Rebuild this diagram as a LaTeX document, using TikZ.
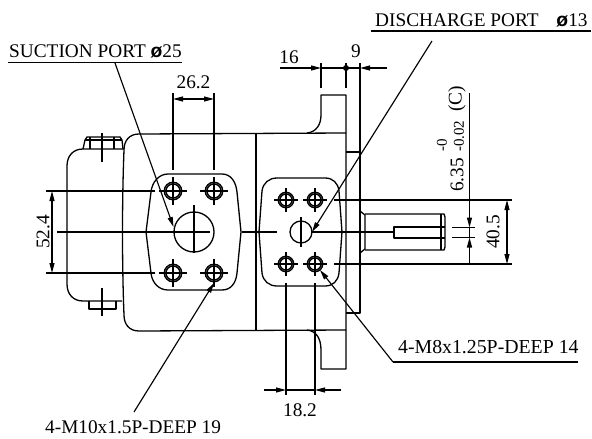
\documentclass[tikz,border=0pt]{standalone}
\usepackage{fontspec}
\setmainfont{Liberation Serif}
\newfontfamily\symfont{Liberation Sans}
\usetikzlibrary{arrows.meta}
\tikzset{
  part/.style={line width=1.3pt,line join=round},
  thin part/.style={line width=1.1pt},
  ext/.style={line width=1.15pt},
  dimtip/.style={-{Triangle[length=10pt,width=5pt]},line width=1.15pt},
  dimboth/.style={{Triangle[length=10pt,width=5pt]}-{Triangle[length=10pt,width=5pt]},line width=1.15pt},
  rule/.style={line width=1.7pt},
  lab/.style={inner sep=0pt,font=\fontsize{19.3}{19.3}\selectfont},
  holeL/.style={line width=1.3pt},
}
\newcommand{\dia}{{\symfont\bfseries ø}}
\newcommand{\holeA}[2]{%
  \draw[holeL] (#1,#2) circle (8.8pt) (#1,#2) circle (7pt);
  \draw[ext] (#1-14,#2) -- (#1+14,#2) (#1,#2-14) -- (#1,#2+14);}
\newcommand{\holeB}[2]{%
  \draw[holeL] (#1,#2) circle (7.8pt) (#1,#2) circle (6pt);
  \draw[ext] (#1-12,#2) -- (#1+12,#2) (#1,#2-12) -- (#1,#2+12);}
\begin{document}
\begin{tikzpicture}[x=1pt,y=-1pt]
\useasboundingbox (0,0) rectangle (592,439);
% body
\draw[part] (346,133) -- (139,134) .. controls (129,134) and (124,141) .. (124,150)
  .. controls (122,200) and (122,265) .. (124,315)
  .. controls (124,324) and (129,331) .. (139,331) -- (346,330);
\draw[part] (256,134) -- (256,331);
% flange
\draw[part] (307,133) .. controls (316,132) and (321,125) .. (321,115) -- (321,95) -- (346,95) -- (346,369) -- (321,369) -- (321,350) .. controls (321,338) and (316,331) .. (307,330);
\draw[part] (346,152) -- (360,152) -- (360,313) -- (346,313);
% shaft
\draw[part] (360,211) -- (365,215) -- (365,249) -- (360,253);
\draw[part] (365,214) -- (444,214) -- (445,217) -- (445,247) -- (444,250) -- (365,250);
\draw[part] (441,214) -- (441,250);
\draw[part] (445,227) -- (394,227) -- (394,238) -- (445,238);
% rear housing
\draw[part] (124,149) -- (83,149) .. controls (73,149) and (67,156) .. (67,166) -- (67,284) .. controls (67,294) and (73,301) .. (83,301) -- (122,301);
% bolts
\draw[part] (83,149) -- (85,140) -- (87,137) -- (120,137) -- (122,140) -- (123,149);
\draw[thin part] (90,149) -- (90,137) (114,149) -- (114,137) (85,140) -- (122,140);
\draw[part] (89,301) -- (89,309) -- (116,309) -- (116,301);
\draw[ext] (102,133) -- (102,162) (102,288) -- (102,316);
% suction plate
\draw[part] (168,174) -- (222,174) .. controls (231,174) and (236,182) .. (237,192) -- (241,232) -- (237,273)
  .. controls (236,283) and (231,290) .. (222,290) -- (168,290)
  .. controls (159,290) and (152,283) .. (151,273) -- (146,232) -- (151,192)
  .. controls (152,182) and (159,174) .. (168,174) -- cycle;
% discharge plate
\draw[part] (277,178) -- (325,178) .. controls (333,178) and (338,183) .. (339,191) -- (342,232) -- (339,273)
  .. controls (338,281) and (333,286) .. (325,286) -- (277,286)
  .. controls (269,286) and (263,281) .. (262,273) -- (259,232) -- (262,191)
  .. controls (263,183) and (269,178) .. (277,178) -- cycle;
% ports
\draw[part] (194,232) circle (20pt);
\draw[part] (301,232) circle (11pt);
\draw[ext] (194,205) -- (194,253) (301,217) -- (301,247);
\draw[ext] (57,232) -- (210,232) (242,232) -- (277,232) (311,232) -- (394,232);
\holeA{173}{191}\holeA{214}{191}\holeA{173}{273}\holeA{214}{273}
\holeB{286}{200}\holeB{315}{200}\holeB{286}{264}\holeB{315}{264}
% dimension 26.2
\draw[ext] (173,93) -- (173,170) (214,93) -- (214,170);
\coordinate (d26a) at (173,99); \coordinate (d26b) at (214,99); \coordinate (d26m) at (193.5,99);
\draw[dimtip] (d26m) -- (d26a); \draw[dimtip] (d26m) -- (d26b);
\node[lab] (t262) at (193.5,82) {26.2};
% dimension 52.4
\draw[ext] (46,191) -- (155,191) (46,273) -- (155,273);
\coordinate (d52a) at (52,191); \coordinate (d52b) at (52,273);
\draw[dimboth] (d52a) -- (d52b);
\node[lab,rotate=90] (t524) at (43,232) {52.4};
% dimension 16 / 9
\draw[ext] (321,63) -- (321,88) (346,63) -- (346,88) (360,63) -- (360,152);
\coordinate (a16) at (280,68); \coordinate (b16) at (321,68);
\coordinate (a9) at (387,68); \coordinate (b9) at (360,68);
\draw[dimtip] (a16) -- (b16);
\draw[dimtip] (a9) -- (b9);
\draw[ext] (b16) -- (b9);
\fill (346,68) circle (3pt);
\node[lab] (t16) at (289,57) {16};
\node[lab] (t9) at (356,51) {9};
% dimension 18.2
\draw[ext] (286,283) -- (286,395) (315,283) -- (315,395);
\coordinate (a18) at (264,390); \coordinate (b18) at (286,390);
\coordinate (c18) at (341,390); \coordinate (e18) at (315,390);
\draw[dimtip] (a18) -- (b18); \draw[dimtip] (c18) -- (e18); \draw[ext] (b18) -- (e18);
\node[lab] (t182) at (300,410) {18.2};
% dimension 40.5
\draw[ext] (334,200) -- (512,200) (334,264) -- (512,264);
\coordinate (a40) at (507,200); \coordinate (b40) at (507,264);
\draw[dimboth] (a40) -- (b40);
\node[lab,rotate=90] (t405) at (493,232) {40.5};
% dimension 6.35
\draw[ext] (452,227.5) -- (475,227.5) (452,237.5) -- (475,237.5);
\coordinate (a6) at (469.5,93); \coordinate (b6) at (469.5,227.5);
\coordinate (c6) at (469.5,264); \coordinate (e6) at (469.5,237.5);
\draw[dimtip] (a6) -- (b6); \draw[dimtip] (c6) -- (e6);
\draw[ext] (b6) -- (e6);
\node[lab,rotate=90,anchor=west] (t635) at (457,192) {6.35};
\node[inner sep=0pt,rotate=90,anchor=west,font=\fontsize{15}{15}\selectfont] (t002) at (459,152) {-0.02};
\node[inner sep=0pt,rotate=90,anchor=west,font=\fontsize{15}{15}\selectfont] (t0) at (442,152) {-0};
\node[lab,rotate=90,anchor=west] (tc) at (457,112) {(C)};
% leaders and callouts
\node[lab,anchor=base west] (suc) at (9,57) {SUCTION PORT \dia25};
\draw[rule] (8,62.5) -- (182,62.5);
\coordinate (suc1) at (115,63); \coordinate (suc2) at (173.5,227);
\draw[dimtip] (suc1) -- (suc2);
\node[lab,anchor=base west] (dis) at (375,26) {DISCHARGE PORT \hspace{13pt}\dia13};
\draw[rule] (371,31) -- (591,31);
\coordinate (dis1) at (432,41); \coordinate (dis2) at (312,232);
\draw[dimtip] (dis1) -- (dis2);
\node[lab,anchor=base west,font=\fontsize{19.8}{19.8}\selectfont] (m8) at (398,353) {4-M8x1.25P-DEEP 14};
\draw[rule] (393,362) -- (578,362);
\coordinate (m8a) at (393,362); \coordinate (m8b) at (320,270);
\draw[dimtip] (m8a) -- (m8b);
\node[lab,anchor=base west] (m10) at (45,433) {4-M10x1.5P-DEEP 19};
\coordinate (m10a) at (134,412); \coordinate (m10b) at (214,283);
\draw[dimtip] (m10a) -- (m10b);
\end{tikzpicture}
\end{document}
